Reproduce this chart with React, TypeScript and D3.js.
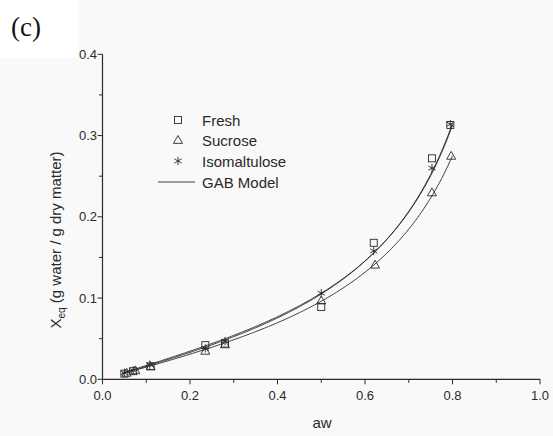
import React from "react";
import * as d3 from "d3";

// Water activity levels and equilibrium moisture content (g water / g dry matter)
const awFresh = [0.05, 0.07, 0.11, 0.235, 0.28, 0.5, 0.62, 0.753, 0.795];
const xFresh = [0.007, 0.01, 0.016, 0.042, 0.044, 0.089, 0.168, 0.272, 0.313];

const awSucrose = [0.055, 0.075, 0.11, 0.235, 0.28, 0.5, 0.623, 0.753, 0.797];
const xSucrose = [0.008, 0.011, 0.016, 0.035, 0.043, 0.097, 0.141, 0.23, 0.275];

const awIso = [0.05, 0.07, 0.108, 0.235, 0.28, 0.5, 0.62, 0.753, 0.795];
const xIso = [0.008, 0.011, 0.018, 0.038, 0.047, 0.106, 0.158, 0.26, 0.314];

// GAB model parameters [Xm, C, K] for Fresh, Sucrose, Isomaltulose
const gabXm = [0.0863, 0.0804, 0.0832];
const gabC = [1.908, 1.9675, 2.136];
const gabK = [0.9552, 0.9377, 0.959];

const xTicks = [0, 0.2, 0.4, 0.6, 0.8, 1.0];
const xMinor = [0.1, 0.3, 0.5, 0.7, 0.9];
const yTicks = [0, 0.1, 0.2, 0.3, 0.4];
const yMinor = [0.05, 0.15, 0.25, 0.35];

const legendLabels = ["Fresh", "Sucrose", "Isomaltulose", "GAB Model"];

const W = 553;
const H = 436;
const INK = "#2a2a2a";
const SANS = "'Liberation Sans', Arial, Helvetica, sans-serif";
const SERIF = "'Liberation Serif', 'Times New Roman', Times, serif";

function gab(a: number, xm: number, c: number, k: number) {
  return (xm * c * k * a) / ((1 - k * a) * (1 - k * a + c * k * a));
}

function Square({ x, y }: { x: number; y: number }) {
  return <rect x={x - 3.5} y={y - 3.5} width={7} height={7} fill="none" stroke={INK} strokeWidth={0.9} />;
}
function Triangle({ x, y }: { x: number; y: number }) {
  const s = 4.5;
  return (
    <path
      d={`M${x},${y - s}L${x + s},${y + s * 0.75}L${x - s},${y + s * 0.75}Z`}
      fill="none"
      stroke={INK}
      strokeWidth={0.9}
    />
  );
}
function Star({ x, y }: { x: number; y: number }) {
  const r = 4.2;
  const d = [0, 60, 120]
    .map((deg) => {
      const t = ((deg + 90) * Math.PI) / 180;
      const dx = r * Math.cos(t);
      const dy = r * Math.sin(t);
      return `M${x - dx},${y - dy}L${x + dx},${y + dy}`;
    })
    .join("");
  return <path d={d} stroke={INK} strokeWidth={0.9} fill="none" />;
}

export default function App() {
  const xs = d3.scaleLinear().domain([0, 1]).range([102.5, 540]);
  const ys = d3.scaleLinear().domain([0, 0.4]).range([379.3, 54.3]);

  const line = d3
    .line<[number, number]>()
    .x((d) => xs(d[0]))
    .y((d) => ys(d[1]))
    .curve(d3.curveLinear);

  const curves = gabXm.map((xm, i) => {
    const pts: [number, number][] = d3
      .range(0.045, 0.8001, 0.005)
      .map((a) => [a, gab(a, xm, gabC[i], gabK[i])]);
    return line(pts) as string;
  });

  const x0 = xs(0);
  const y0 = ys(0);

  const legX = 178;
  const legTextX = 202;
  const legY = [120, 140, 161, 182];

  return (
    <svg
      width={W}
      height={H}
      style={{ position: "fixed", left: 0, top: 0, fontFamily: SANS }}
    >
      <rect x={0} y={0} width={W} height={H} fill="#f9f9f9" />

      {/* axes */}
      <line x1={x0} y1={y0} x2={xs(1)} y2={y0} stroke={INK} strokeWidth={1.2} />
      <line x1={x0} y1={y0} x2={x0} y2={ys(0.4)} stroke={INK} strokeWidth={1.2} />

      {xTicks.map((t) => (
        <g key={"xt" + t}>
          <line x1={xs(t)} x2={xs(t)} y1={y0} y2={y0 + 5} stroke={INK} strokeWidth={1} />
          <text x={xs(t)} y={400} textAnchor="middle" fontSize={13} fill={INK} style={{ fontFamily: SANS }}>
            {t.toFixed(1)}
          </text>
        </g>
      ))}
      {xMinor.map((t) => (
        <line key={"xm" + t} x1={xs(t)} x2={xs(t)} y1={y0} y2={y0 + 3.5} stroke={INK} strokeWidth={1} />
      ))}
      {yTicks.map((t) => (
        <g key={"yt" + t}>
          <line x1={x0 - 5} x2={x0} y1={ys(t)} y2={ys(t)} stroke={INK} strokeWidth={1} />
          <text x={97} y={ys(t) + 4.5} textAnchor="end" fontSize={13} fill={INK} style={{ fontFamily: SANS }}>
            {t.toFixed(1)}
          </text>
        </g>
      ))}
      {yMinor.map((t) => (
        <line key={"ym" + t} x1={x0 - 3.5} x2={x0} y1={ys(t)} y2={ys(t)} stroke={INK} strokeWidth={1} />
      ))}

      {/* axis titles */}
      <text x={322} y={428} textAnchor="middle" fontSize={15} fill={INK} style={{ fontFamily: SANS }}>
        aw
      </text>
      <text
        transform={`translate(61,240) rotate(-90)`}
        textAnchor="middle"
        fontSize={15}
        fill={INK}
        style={{ fontFamily: SANS }}
      >
        X<tspan fontSize={10} dy={4}>eq</tspan>
        <tspan dy={-4}> (g water / g dry matter)</tspan>
      </text>

      {/* GAB model curves */}
      {curves.map((d, i) => (
        <path key={"c" + i} d={d} fill="none" stroke={INK} strokeWidth={0.9} />
      ))}

      {/* measured points */}
      {awFresh.map((a, i) => (
        <Square key={"f" + i} x={xs(a)} y={ys(xFresh[i])} />
      ))}
      {awSucrose.map((a, i) => (
        <Triangle key={"s" + i} x={xs(a)} y={ys(xSucrose[i])} />
      ))}
      {awIso.map((a, i) => (
        <Star key={"i" + i} x={xs(a)} y={ys(xIso[i])} />
      ))}

      {/* legend */}
      <Square x={legX} y={legY[0]} />
      <Triangle x={legX} y={legY[1]} />
      <Star x={legX} y={legY[2]} />
      <line x1={158} x2={195} y1={legY[3]} y2={legY[3]} stroke={INK} strokeWidth={0.9} />
      {legendLabels.map((l, i) => (
        <text key={l} x={legTextX} y={legY[i] + 5.5} fontSize={15} fill={INK} style={{ fontFamily: SANS }}>
          {l}
        </text>
      ))}

      {/* panel label */}
      <rect x={0} y={0} width={79} height={58} fill="#ffffff" />
      <text x={11} y={36} fontSize={27} fill="#111" style={{ fontFamily: SERIF }}>
        (c)
      </text>
    </svg>
  );
}
